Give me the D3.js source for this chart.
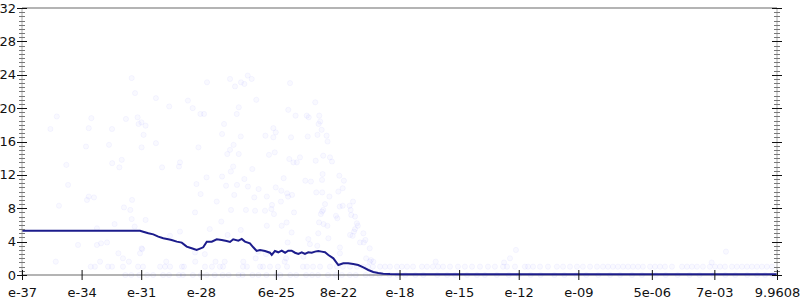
<!DOCTYPE html>
<html>
<head>
<meta charset="utf-8">
<script src="https://cdn.jsdelivr.net/npm/d3@7"></script>
<style>
  body { margin: 0; background: #fff; }
  text { font-family: "DejaVu Sans", sans-serif; font-size: 13px; fill: #111; }
</style>
</head>
<body>
<div class="chart_container"></div>
<script>
// x values are given as exponents (log10 of the value)
const xTickValues = [1e-37, 1e-34, 1e-31, 1e-28, 6e-25, 8e-22, 1e-18, 1e-15, 1e-12, 1e-9, 5e-6, 7e-3, 9.9608];
const xTickLabels = ['e-37', 'e-34', 'e-31', 'e-28', '6e-25', '8e-22', 'e-18', 'e-15', 'e-12', 'e-09', '5e-06', '7e-03', '9.9608'];
const yTickValues = [0, 4, 8, 12, 16, 20, 24, 28, 32];

const lineExp = [-37, -31.06, -30.90, -30.64, -30.39, -30.14, -29.89, -29.64, -29.47, -29.21, -28.96, -28.71, -28.46,
  -28.21, -28.04, -27.88, -27.70, -27.45, -27.20, -26.95, -26.70, -26.53, -26.37, -26.11, -25.94, -25.78, -25.53,
  -25.36, -25.19, -25.02, -24.77, -24.52, -24.43, -24.27, -24.10, -23.93, -23.76, -23.60, -23.43, -23.26, -23.09,
  -22.92, -22.76, -22.59, -22.42, -22.25, -22.09, -21.92, -21.75, -21.58, -21.33, -21.08, -20.83, -20.58, -20.33,
  -20.08, -19.82, -19.57, -19.32, -19.07, -18.82, -18.48, -17.98, -16.5, -14.0, -10.0, -5.0, 0.998];
const lineVal = [5.31, 5.31, 5.19, 5.0, 4.87, 4.60, 4.40, 4.28, 4.20, 4.0, 3.88, 3.40, 3.20,
  3.0, 3.16, 3.32, 4.0, 4.0, 4.28, 4.2, 4.08, 3.96, 4.28, 4.12, 4.32, 4.0, 3.8,
  3.32, 2.88, 3.0, 2.88, 2.67, 2.40, 2.88, 2.72, 2.92, 2.67, 2.92, 2.92, 2.67, 2.52,
  2.72, 2.52, 2.72, 2.67, 2.80, 2.88, 2.80, 2.72, 2.40, 2.0, 1.20, 1.40, 1.40, 1.32,
  1.20, 0.92, 0.60, 0.36, 0.24, 0.16, 0.12, 0.09, 0.08, 0.08, 0.08, 0.08, 0.08];

const scatterExp = [-31.48, -31.31, -35.25, -33.51, -31.77, -31.18, -31.13, -30.78, -35.57, -33.64, -32.47, -30.88,
  -33.78, -32.62, -30.98, -31.98, -32.46, -32.10, -34.77, -34.68, -33.64, -33.38, -33.73, -35.14, -31.46, -31.87,
  -31.55, -31.48, -30.78, -32.34, -31.33, -33.23, -34.18, -33.23, -33.02, -32.72, -30.95, -32.15, -31.06, -31.92,
  -35.30, -33.07, -31.62,
  -25.64, -25.44, -26.53, -25.98, -25.81, -27.69, -26.28, -30.26, -28.65, -25.21, -29.59, -28.41, -26.09, -28.02,
  -27.84, -26.19, -26.83, -30.99, -26.93, -25.99, -24.75, -30.26, -28.12, -26.35, -26.53, -26.67, -26.09, -29.05,
  -29.10, -29.95, -26.37, -25.41, -26.49, -27.71, -26.93, -25.81, -28.22, -26.73, -26.18, -25.63, -25.09, -28.01,
  -26.32, -25.31, -24.68, -27.20, -26.48, -25.73, -25.27, -28.29, -26.97, -24.68, -27.55, -25.99, -29.05, -26.65,
  -29.55, -30.98, -27.80, -28.29, -25.12, -24.72, -25.24, -29.74, -28.28, -27.26, -26.80, -25.86,
  -23.51, -22.24, -23.60, -23.23, -22.67, -22.57, -22.04, -21.99, -22.07, -21.92, -24.35, -24.23, -24.35, -23.46,
  -22.62, -22.13, -21.67, -21.62, -24.28, -24.57, -23.55, -23.34, -23.17, -23.01, -22.22, -21.84, -21.50, -21.40,
  -23.83, -22.74, -22.46, -21.90, -21.87, -21.03, -20.80, -24.23, -23.95, -23.66, -23.61, -23.41, -22.19, -21.89,
  -21.53, -21.08, -20.86, -24.42, -24.45, -24.32, -24.77, -23.97, -23.31, -21.75, -21.90, -21.84, -21.96, -21.01,
  -20.86, -20.51, -20.34, -20.46, -21.20, -21.13, -20.24, -20.43, -20.15, -20.10, -22.05, -21.82, -21.63, -23.68,
  -23.93, -20.24, -20.29, -20.36, -20.49, -19.82, -19.72, -19.80, -19.99, -23.43, -22.09, -23.63, -21.58, -22.59,
  -22.51, -22.14, -21.00, -21.00, -19.50, -23.78, -23.71, -22.84, -19.68, -19.44, -19.32, -19.50,
  -16.18, -12.74, -12.44, -12.14, -2.29, -1.57];
const scatterVal = [23.6, 21.8, 19.0, 18.8, 18.7, 18.9, 18.1, 17.9, 17.5, 17.6, 17.5, 16.8,
  15.4, 15.6, 15.3, 13.8, 13.4, 12.9, 13.2, 10.8, 9.4, 9.3, 9.0, 8.3, 9.0, 8.1,
  7.8, 6.7, 6.6, 6.1, 5.8, 5.6, 3.6, 3.6, 3.8, 3.9, 3.1, 2.6, 2.6, 2.0,
  1.6, 1.6, 1.6,
  23.9, 23.5, 23.5, 23.1, 22.9, 23.1, 22.6, 21.2, 20.9, 21.0, 20.2, 20.0, 20.1, 19.3,
  19.3, 19.3, 18.1, 18.3, 16.9, 16.6, 16.7, 15.8, 15.3, 15.6, 15.0, 14.5, 14.5, 13.5,
  13.0, 12.9, 13.0, 12.7, 12.4, 11.7, 11.8, 11.5, 10.9, 10.7, 10.8, 10.6, 10.3, 9.7,
  9.6, 9.3, 9.4, 8.8, 7.8, 7.8, 7.7, 7.5, 6.4, 5.9, 5.5, 5.4, 5.2, 4.8,
  4.7, 3.2, 2.5, 2.7, 2.8, 2.5, 2.0, 1.6, 1.6, 1.6, 1.6, 1.6,
  23.0, 20.7, 19.8, 19.1, 19.1, 18.9, 19.1, 18.4, 18.1, 17.4, 17.6, 17.1, 16.5, 16.5,
  16.6, 16.8, 16.7, 16.0, 14.7, 14.4, 13.9, 13.5, 13.5, 14.1, 13.7, 14.3, 14.1, 13.6,
  11.6, 11.3, 11.2, 11.4, 12.1, 11.9, 11.3, 10.5, 10.1, 9.8, 9.4, 9.6, 9.9, 9.9,
  9.4, 10.0, 10.4, 8.4, 7.9, 7.3, 7.7, 8.8, 7.5, 8.5, 7.6, 7.8, 7.3, 8.2,
  8.3, 8.3, 8.8, 7.8, 7.1, 6.8, 7.0, 7.2, 6.2, 5.9, 6.3, 6.1, 5.9, 6.3,
  5.9, 5.5, 5.2, 4.7, 4.8, 5.0, 4.2, 3.9, 3.9, 5.1, 5.0, 3.9, 4.4, 4.3,
  3.7, 3.5, 3.3, 2.6, 3.2, 1.6, 2.0, 2.2, 2.0, 1.8, 1.6, 1.6,
  1.6, 1.5, 2.0, 3.0, 1.5, 2.8];

// points sitting on the value 1 row
const rowOneExp = [-33.54, -33.33, -32.67, -32.47, -31.92, -31.16, -30.91, -30.05, -29.80, -29.55, -28.95, -28.85,
  -27.79, -27.44, -27.04, -26.88, -25.88, -25.68, -25.02, -24.87, -24.52, -24.12, -23.66, -22.86, -22.66, -22.35,
  -22.0, -21.5, -21.15, -20.85, -20.49, -20.14, -19.84, -19.59, -19.34, -18.98, -18.73, -18.48, -18.13, -17.88,
  -17.62, -17.32, -16.87, -16.62, -16.32, -16.06, -15.81, -15.46, -15.06, -14.71, -14.35, -13.95, -13.55, -13.20,
  -12.79, -12.59, -12.19, -11.69, -11.53, -11.28, -10.93, -10.53, -10.08, -9.77, -9.42, -9.07, -8.77, -8.41, -8.06,
  -7.76, -7.51, -7.26, -7.01, -6.75, -6.50, -6.25, -6.0, -5.75, -5.39, -5.14, -4.89, -4.64, -4.29, -3.78, -3.53,
  -3.28, -3.03, -2.73, -2.38, -2.12, -1.87, -1.62, -1.27, -1.02, -0.76, -0.51, -0.26, -0.01, 0.24, 0.49, 0.75];
// points sitting on the value 0 row
const rowZeroExp = [-31.8, -31.5, -31.1, -30.7, -30.4, -29.9, -29.6, -29.1, -28.9, -28.4, -28.0, -27.7, -27.3,
  -26.9, -26.6, -26.1, -25.9, -25.4, -25.1, -24.7, -24.2, -24.0, -23.5, -23.2, -22.7, -22.4, -22.1, -21.6, -21.2,
  -20.9, -20.5, -20.2, -19.7, -19.4, -19.0, -18.5, -18.1, -17.7, -17.2, -16.8, -16.1, -15.6, -15.2, -14.6, -14.1,
  -13.7, -13.1, -12.5, -12.0, -11.4, -10.9, -10.2, -9.7, -9.1, -8.6, -8.0, -7.4, -6.9, -6.3, -5.8, -5.1, -4.6,
  -4.0, -3.4, -2.9, -2.2, -1.6, -1.1, -0.5, 0.0, 0.4, 0.8];

const width = 800;
const height = 300;
const plotLeft = 22, plotRight = 777, plotTop = 8, plotBottom = 275;

function drawChart() {
  const container = document.querySelector('div.chart_container');
  container.innerHTML = `<svg width=${width} height=${height}></svg>`;
  const svg = d3.select(container).select('svg');

  const x = d3.scaleLog().domain([1e-37, 9.9608]).range([plotLeft, plotRight]);
  const y = d3.scaleLinear().domain([0, 32]).range([plotBottom, plotTop]);

  // frame lines
  svg.append('line').attr('x1', plotLeft).attr('x2', plotRight).attr('y1', y(32)).attr('y2', y(32))
    .attr('stroke', '#b4b4b4').attr('stroke-width', 2);
  svg.append('line').attr('x1', plotLeft).attr('x2', plotRight).attr('y1', y(0)).attr('y2', y(0))
    .attr('stroke', '#b4b4b4').attr('stroke-width', 2);

  // scatter
  const pts = scatterExp.map((e, i) => [e, scatterVal[i]])
    .concat(rowOneExp.map(e => [e, 1]))
    .concat(rowZeroExp.map(e => [e, 0]));
  svg.append('g').selectAll('circle')
    .data(pts).enter().append('circle')
    .attr('cx', d => x(Math.pow(10, d[0])))
    .attr('cy', d => y(d[1]))
    .attr('r', 2.6)
    .attr('fill', '#4444ff').attr('fill-opacity', 0.03)
    .attr('stroke', '#4444ff').attr('stroke-opacity', 0.045);

  // running line
  const line = d3.line()
    .x(d => x(Math.pow(10, d[0])))
    .y(d => y(d[1]));
  svg.append('path')
    .datum(lineExp.map((e, i) => [e, lineVal[i]]))
    .attr('d', line)
    .attr('fill', 'none')
    .attr('stroke', '#1c1c8c')
    .attr('stroke-width', 2);

  // y axes (left and right), minor + major ticks
  const minor = d3.range(0, 32.01, 0.5).filter(v => v % 4 !== 0);
  [plotLeft, plotRight].forEach(px => {
    const g = svg.append('g');
    g.append('line').attr('x1', px).attr('x2', px).attr('y1', y(0)).attr('y2', y(32))
      .attr('stroke', '#aaa');
    g.selectAll('line.minor').data(minor).enter().append('line')
      .attr('class', 'minor')
      .attr('x1', px - 3).attr('x2', px + 3)
      .attr('y1', d => Math.round(y(d)) + 0.5).attr('y2', d => Math.round(y(d)) + 0.5)
      .attr('stroke', '#777');
    g.selectAll('line.major').data(yTickValues).enter().append('line')
      .attr('class', 'major')
      .attr('x1', px - 5).attr('x2', px + 5)
      .attr('y1', d => Math.round(y(d)) + 0.5).attr('y2', d => Math.round(y(d)) + 0.5)
      .attr('stroke', '#111');
  });
  svg.append('g').selectAll('text')
    .data(yTickValues).enter().append('text')
    .attr('x', 16).attr('y', d => y(d))
    .attr('text-anchor', 'end').attr('dy', '0.35em')
    .text(d => d);

  // x axis
  const xAxis = d3.axisBottom(x)
    .tickValues(xTickValues)
    .tickFormat((d, i) => xTickLabels[i])
    .tickSize(5)
    .tickPadding(8);
  const gx = svg.append('g').attr('transform', `translate(0,${plotBottom})`).call(xAxis);
  gx.select('.domain').remove();
  gx.selectAll('.tick line').attr('y1', -5).attr('stroke', '#111');
  gx.selectAll('.tick text').attr('font-size', null).attr('font-family', null).attr('fill', '#111');
}

drawChart();
</script>
</body>
</html>
